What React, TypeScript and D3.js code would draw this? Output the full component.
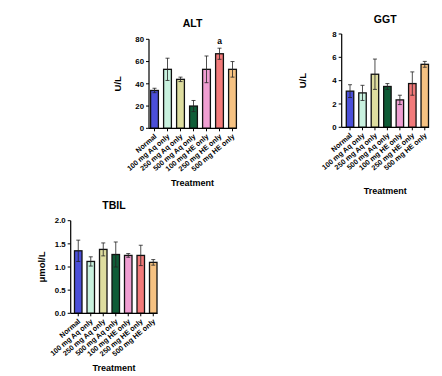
import React from "react";
import * as d3 from "d3";

const categories = [
  "Normal",
  "100 mg Aq only",
  "250 mg Aq only",
  "500 mg Aq only",
  "100 mg HE only",
  "250 mg HE only",
  "500 mg HE only",
];
const colors = ["#4b4fd9", "#c9f2df", "#dedd9f", "#0f5c37", "#f09ed2", "#f27a7a", "#f6c282"];

const altValues = [34, 53, 44, 20, 53, 67, 53];
const altErrors = [2, 10, 2, 5, 12, 5, 7];
const altTicks = [0, 20, 40, 60, 80];

const ggtValues = [3.1, 2.95, 4.55, 3.5, 2.35, 3.75, 5.4];
const ggtErrors = [0.55, 0.65, 1.3, 0.25, 0.4, 1.0, 0.25];
const ggtTicks = [0, 2, 4, 6, 8];

const tbilValues = [1.35, 1.12, 1.38, 1.27, 1.25, 1.25, 1.1];
const tbilErrors = [0.23, 0.1, 0.14, 0.27, 0.04, 0.22, 0.06];
const tbilTicks = [0, 0.5, 1.0, 1.5, 2.0];

const FONT = "'Liberation Sans', Arial, sans-serif";

type PanelProps = {
  title: string;
  yLabel: string;
  values: number[];
  errors: number[];
  ticks: number[];
  fmt: (v: number) => string;
  axisX: number;
  axisEnd: number;
  yTop: number;
  yBottom: number;
  bandStart: number;
  bandEnd: number;
  titleY: number;
  yLabelX: number;
  treatmentY: number;
  annotations?: { index: number; text: string }[];
};

function Panel(p: PanelProps) {
  const yMax = p.ticks[p.ticks.length - 1];
  const y = d3.scaleLinear().domain([0, yMax]).range([p.yBottom, p.yTop]);
  const x = d3
    .scaleBand<string>()
    .domain(categories)
    .range([p.bandStart, p.bandEnd])
    .paddingInner(0.4)
    .paddingOuter(0.2);
  const bw = x.bandwidth();
  const centerX = (p.axisX + p.axisEnd) / 2;
  return (
    <g fontFamily={FONT} fontWeight="bold">
      <text x={centerX} y={p.titleY} textAnchor="middle" fontSize={10.5}>
        {p.title}
      </text>
      <text
        transform={`translate(${p.yLabelX},${(p.yTop + p.yBottom) / 2}) rotate(-90)`}
        textAnchor="middle"
        fontSize={9.5}
      >
        {p.yLabel}
      </text>
      {p.ticks.map((t) => (
        <g key={t}>
          <line x1={p.axisX - 3} x2={p.axisX} y1={y(t)} y2={y(t)} stroke="#000" strokeWidth={1} />
          <text x={p.axisX - 5} y={y(t)} dy="0.35em" textAnchor="end" fontSize={7.8}>
            {p.fmt(t)}
          </text>
        </g>
      ))}
      {categories.map((c, i) => {
        const cx = x(c)! + bw / 2;
        const v = p.values[i];
        const e = p.errors[i];
        return (
          <g key={c}>
            <rect
              x={x(c)!}
              y={y(v)}
              width={bw}
              height={p.yBottom - y(v)}
              fill={colors[i]}
              stroke="#111"
              strokeWidth={1.3}
            />
            <line x1={cx} x2={cx} y1={y(v + e)} y2={y(v - e)} stroke="#222" strokeWidth={0.8} />
            <line x1={cx - 2} x2={cx + 2} y1={y(v + e)} y2={y(v + e)} stroke="#222" strokeWidth={0.8} />
            <line x1={cx - 2} x2={cx + 2} y1={y(v - e)} y2={y(v - e)} stroke="#222" strokeWidth={0.8} />
            <line x1={cx} x2={cx} y1={p.yBottom} y2={p.yBottom + 3} stroke="#000" strokeWidth={1} />
            <text
              transform={`translate(${cx + 1},${p.yBottom + 7}) rotate(-40)`}
              textAnchor="end"
              dy="0.35em"
              fontSize={7.2}
            >
              {c}
            </text>
          </g>
        );
      })}
      {(p.annotations || []).map((a) => {
        const c = categories[a.index];
        const cx = x(c)! + bw / 2;
        return (
          <text key={a.index} x={cx} y={y(p.values[a.index] + p.errors[a.index]) - 4} textAnchor="middle" fontSize={8.5}>
            {a.text}
          </text>
        );
      })}
      <line x1={p.axisX} x2={p.axisX} y1={p.yTop} y2={p.yBottom} stroke="#000" strokeWidth={1.2} />
      <line x1={p.axisX} x2={p.axisEnd} y1={p.yBottom} y2={p.yBottom} stroke="#000" strokeWidth={1.2} />
      <text x={centerX} y={p.treatmentY} textAnchor="middle" fontSize={9}>
        Treatment
      </text>
    </g>
  );
}

export default function App() {
  return (
    <svg
      width={442}
      height={376}
      style={{ position: "absolute", left: 0, top: 0, background: "#fff" }}
    >
      <rect width={442} height={376} fill="#fff" />
      <Panel
        title="ALT"
        yLabel="U/L"
        values={altValues}
        errors={altErrors}
        ticks={altTicks}
        fmt={(v) => String(v)}
        axisX={149}
        axisEnd={236}
        yTop={39.3}
        yBottom={128.3}
        bandStart={148}
        bandEnd={239}
        titleY={27}
        yLabelX={121}
        treatmentY={186}
        annotations={[{ index: 5, text: "a" }]}
      />
      <Panel
        title="GGT"
        yLabel="U/L"
        values={ggtValues}
        errors={ggtErrors}
        ticks={ggtTicks}
        fmt={(v) => String(v)}
        axisX={341.7}
        axisEnd={428.7}
        yTop={34}
        yBottom={127.3}
        bandStart={343.8}
        bandEnd={431}
        titleY={23}
        yLabelX={306}
        treatmentY={194}
        />
      <Panel
        title="TBIL"
        yLabel="μmol/L"
        values={tbilValues}
        errors={tbilErrors}
        ticks={tbilTicks}
        fmt={(v) => v.toFixed(1)}
        axisX={70.7}
        axisEnd={157.3}
        yTop={220.7}
        yBottom={313.3}
        bandStart={72}
        bandEnd={159.5}
        titleY={209}
        yLabelX={45}
        treatmentY={371}
      />
    </svg>
  );
}
